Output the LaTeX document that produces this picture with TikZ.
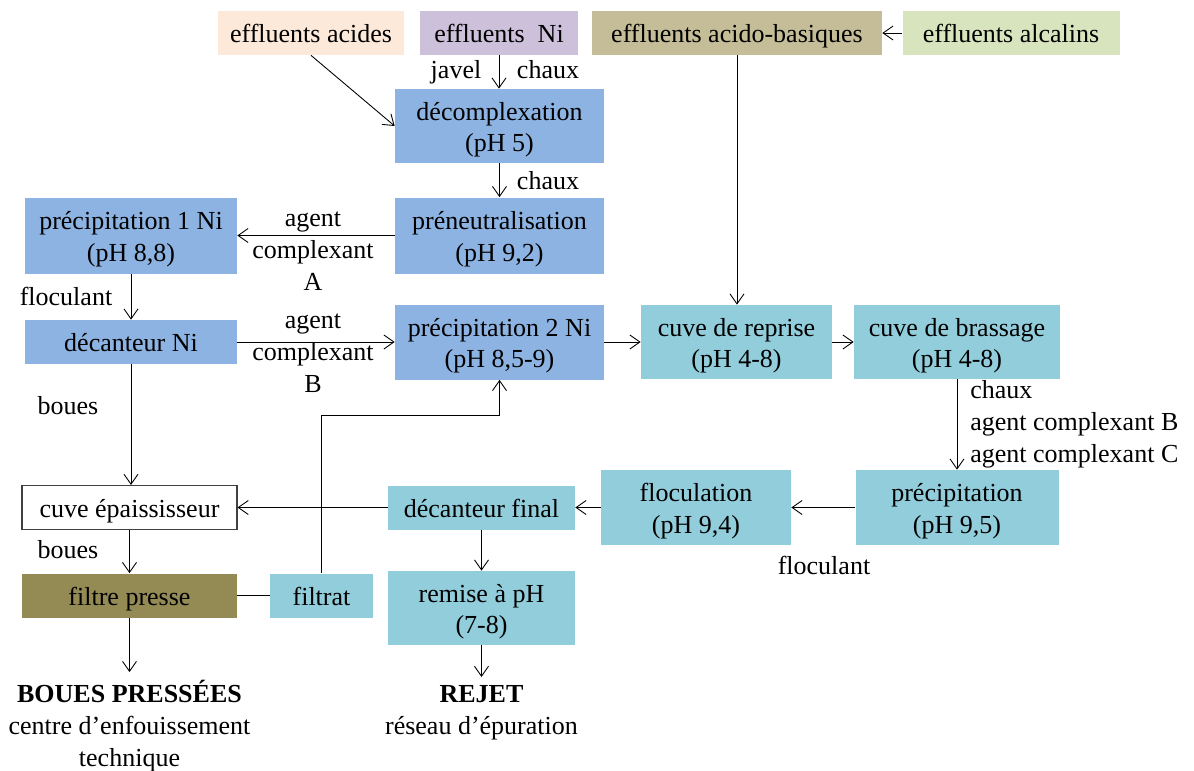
\documentclass[tikz,border=0pt]{standalone}
\usepackage{fontspec}
\setmainfont{Liberation Serif}
\usetikzlibrary{arrows.meta, positioning}
\definecolor{ebBlue}{HTML}{8DB3E2}
\definecolor{ebAqua}{HTML}{92CDDC}
\definecolor{ebPeach}{HTML}{FDE9D9}
\definecolor{ebLilac}{HTML}{CCC0DA}
\definecolor{ebTan}{HTML}{C4BD97}
\definecolor{ebGreen}{HTML}{D7E4BD}
\definecolor{ebOlive}{HTML}{948A54}

\begin{document}
\begin{tikzpicture}[x=0.02cm, y=-0.02cm,
    box/.style={rectangle, fill=#1, inner sep=2pt, align=center,
                font=\fontsize{14.8}{18}\selectfont},
    sz/.style 2 args={minimum width=#1*0.02cm, minimum height=#2*0.02cm},
    single/.style={text height=11.2pt, text depth=0pt},
    double/.style={text height=29.5pt, text depth=0pt},
    lbl/.style={inner sep=0pt, align=center, font=\fontsize{14.8}{18}\selectfont},
    outlbl/.style={lbl, inner ysep=0.16cm},
    arr/.style={-{Straight Barb[length=2mm, width=2.8mm]}, line width=0.5pt},
    link/.style={line width=0.5pt},
  ]
    \useasboundingbox (0,0) rectangle (1194,771);

    \node[box=ebPeach, single, sz={186}{44}] (acides) at (311,33) {effluents acides};
    \node[box=ebLilac, single, sz={158}{44}] (effNi) at (499,33) {effluents\ \ Ni};
    \node[box=ebTan, single, sz={290}{44}] (acidobas) at (737,33) {effluents acido-basiques};
    \node[box=ebGreen, single, sz={217}{44}] (alcalins) at (1011,33) {effluents alcalins};

    \node[box=ebBlue, double, sz={209}{74}] (decomp) at (499.5,126) {décomplexation\\(pH 5)};
    \node[box=ebBlue, double, sz={209}{76}] (preneut) at (499.5,235.5) {préneutralisation\\(pH 9,2)};
    \node[box=ebBlue, double, sz={212}{76}] (precipA) at (131,235.5) {précipitation 1 Ni\\(pH 8,8)};
    \node[box=ebBlue, single, sz={212}{44}] (decNi) at (131,342) {décanteur Ni};
    \node[box=ebBlue, double, sz={209}{75}] (precipB) at (499.5,342) {précipitation 2 Ni\\(pH 8,5-9)};
    \node[box=ebAqua, double, sz={191}{74}] (reprise) at (736.5,342) {cuve de reprise\\(pH 4-8)};
    \node[box=ebAqua, double, sz={206}{74}] (brassage) at (957,342) {cuve de brassage\\(pH 4-8)};
    \node[box=ebAqua, double, sz={203}{75}] (precip) at (957,507.5) {précipitation\\(pH 9,5)};
    \node[box=ebAqua, double, sz={190}{75}] (flocul) at (696,507.5) {floculation\\(pH 9,4)};
    \node[box=ebAqua, single, sz={187}{44}] (decfin) at (481.5,507.5) {décanteur final};
    \node[box=white, single, draw=black!75, line width=0.6pt, sz={215}{44}] (epaiss) at (129.5,507.5) {cuve épaississeur};
    \node[box=ebOlive, single, sz={215}{44}] (filtre) at (129.5,595.5) {filtre presse};
    \node[box=ebAqua, single, sz={103}{44}] (filtrat) at (321.5,595.5) {filtrat};
    \node[box=ebAqua, double, sz={187}{74}] (remise) at (481.5,608) {remise à pH\\(7-8)};

    \node[outlbl, anchor=base] (rejet) at (481.5,734) {\textbf{REJET}\\réseau d'épuration};
    \node[outlbl, anchor=base] (boues) at (129.5,766) {\textbf{BOUES PRESSÉES}\\centre d'enfouissement\\technique};

    \node[lbl, anchor=base] (javel) at (456,78) {javel};
    \node[lbl, anchor=base] (chauxA) at (548,78) {chaux};
    \node[lbl, anchor=base] (chauxB) at (548,189) {chaux};
    \node[lbl, anchor=base] (agentA) at (313,290) {agent\\complexant\\A};
    \node[lbl, anchor=base] (agentB) at (313,392) {agent\\complexant\\B};
    \node[lbl, anchor=base] (flocA) at (66,305) {floculant};
    \node[lbl, anchor=base] (bouesA) at (68,414) {boues};
    \node[lbl, anchor=base] (bouesB) at (68,558) {boues};
    \node[lbl, anchor=base west, align=left] (reactifs) at (970,462) {chaux\\agent complexant B\\agent complexant C};
    \node[lbl, anchor=base] (flocB) at (824,574) {floculant};

    \coordinate (retour) at (321.5,415);

    \draw[arr] (acides.south) -- (decomp.west);
    \draw[arr] (effNi.south) -- (effNi.south |- decomp.north);
    \draw[arr] (alcalins) -- (acidobas);
    \draw[arr] (decomp) -- (preneut);
    \draw[arr] (preneut) -- (precipA);
    \draw[arr] (precipA) -- (decNi);
    \draw[arr] (decNi) -- (precipB);
    \draw[arr] (precipB) -- (reprise);
    \draw[arr] (reprise) -- (brassage);
    \draw[arr] (acidobas.south) -- (acidobas.south |- reprise.north);
    \draw[arr] (brassage) -- (precip);
    \draw[arr] (precip) -- (flocul);
    \draw[arr] (flocul) -- (decfin);
    \draw[arr] (decfin) -- (epaiss);
    \draw[arr] (decNi.south) -- (decNi.south |- epaiss.north);
    \draw[arr] (epaiss) -- (filtre);
    \draw[link] (filtre) -- (filtrat);
    \draw[arr] (filtrat.north) -- (retour) -| (precipB.south);
    \draw[arr] (decfin) -- (remise);
    \draw[arr] (remise) -- (rejet);
    \draw[arr] (filtre) -- (boues);
\end{tikzpicture}
\end{document}
